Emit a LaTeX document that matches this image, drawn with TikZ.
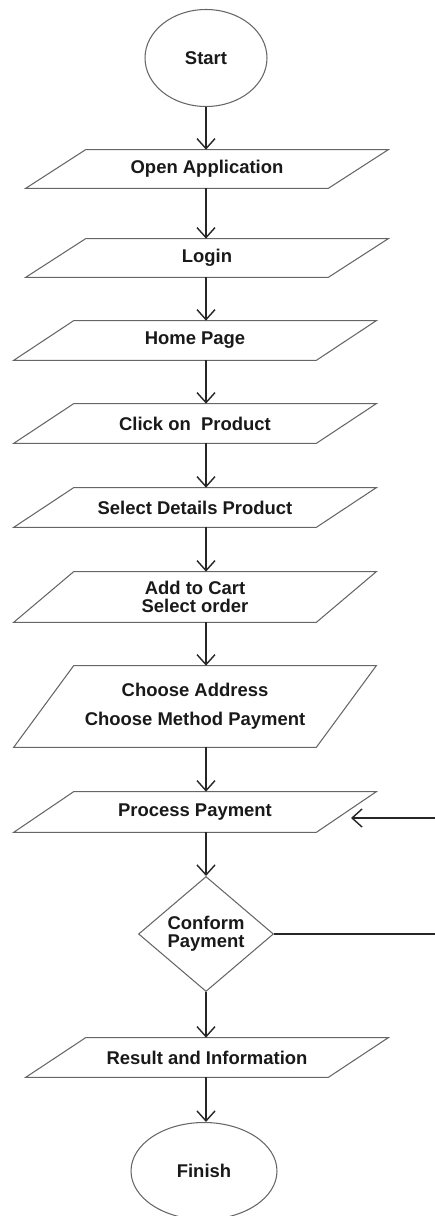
\documentclass[tikz,border=0pt]{standalone}
\usepackage{fontspec}
\setmainfont{Liberation Sans}
\usetikzlibrary{shapes.geometric,arrows.meta}
% slanted outline round a named box node, #2 = half the slant
\newcommand{\ioframe}[2]{\draw[frame] ([xshift=#2]#1.north west) -- ([xshift=#2]#1.north east)
    -- ([xshift=-#2]#1.south east) -- ([xshift=-#2]#1.south west) -- cycle;}
\begin{document}
\begin{tikzpicture}[>={Straight Barb[length=2mm,width=3.6mm]}, x=0.02cm, y=-0.02cm,
    every node/.style={font=\fontsize{10.5}{10}\selectfont\bfseries, align=center, text=black!90},
    frame/.style={draw=black!60, line width=.6pt},
    term/.style={ellipse, frame, inner sep=0pt},
    io/.style={inner sep=0pt, minimum width=6.04cm, minimum height=.78cm},
    flow/.style={->, line width=.8pt, black!85}]
\useasboundingbox (0,0) rectangle (435,1216);
\coordinate (axis) at (206,0);
\node[term, minimum width=2.44cm, minimum height=1.94cm] (start) at (206,58) {Start};
\node[io, minimum height=.76cm] (open) at (207,169) {Open Application};
\node[io, minimum height=.76cm] (login) at (207,258) {Login};
\node[io] (home) at (195,340.5) {Home Page};
\node[io] (click) at (195,423.5) {Click on\ \ Product};
\node[io] (details) at (195,507.5) {Select Details Product};
\node[io, minimum height=1cm] (cart) at (195,597) {Add to Cart\\Select order};
\node[io, minimum height=1.62cm] (address) at (195,706.5) {Choose Address\\[6.4pt]Choose Method Payment};
\node[io, minimum height=.8cm] (pay) at (195,812) {Process Payment};
\node[diamond, frame, inner sep=0pt, minimum width=2.7cm, minimum height=2.3cm] (check) at (206,934) {Conform\\Payment};
\node[io] (result) at (207,1057.5) {Result and Information};
\node[term, minimum width=2.92cm, minimum height=1.94cm] (finish) at (204,1171) {Finish};
\ioframe{open}{.6cm}
\ioframe{login}{.6cm}
\ioframe{home}{.6cm}
\ioframe{click}{.6cm}
\ioframe{details}{.6cm}
\ioframe{cart}{.6cm}
\ioframe{address}{.6cm}
\ioframe{pay}{.6cm}
\ioframe{result}{.6cm}
% arrows down the middle
\draw[flow] (start) -- (open.north -| axis);
\draw[flow] (open.south -| axis) -- (login.north -| axis);
\draw[flow] (login.south -| axis) -- (home.north -| axis);
\draw[flow] (home.south -| axis) -- (click.north -| axis);
\draw[flow] (click.south -| axis) -- (details.north -| axis);
\draw[flow] (details.south -| axis) -- (cart.north -| axis);
\draw[flow] (cart.south -| axis) -- (address.north -| axis);
\draw[flow] (address.south -| axis) -- (pay.north -| axis);
\draw[flow] (pay.south -| axis) -- (check.north);
\draw[flow] (check.south) -- (result.north -| axis);
\draw[flow] (result.south -| axis) -- (finish.north -| axis);
% back to payment
\coordinate (loopR) at (440,818);
\coordinate (payin) at (351,818);
\draw[flow] (check.east) -| (loopR) -- (payin);
\end{tikzpicture}
\end{document}
